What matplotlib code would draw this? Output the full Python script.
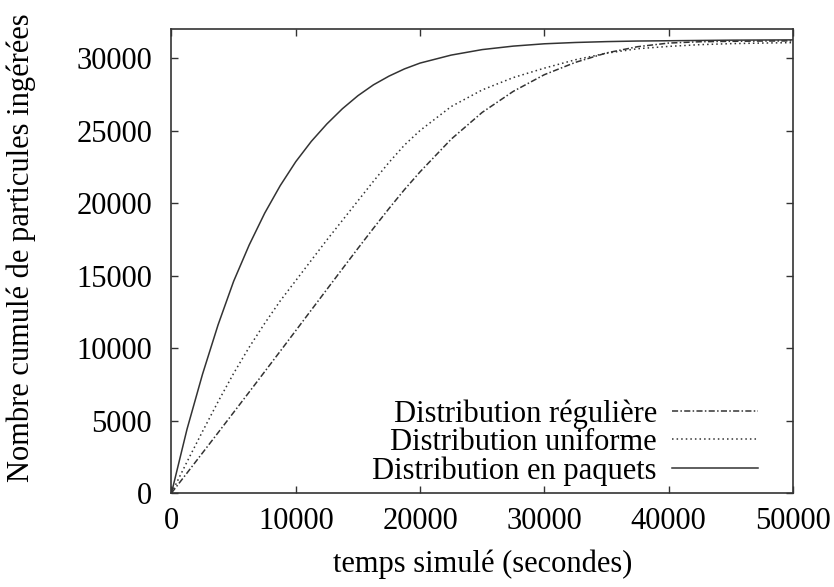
import numpy as np
import matplotlib.pyplot as plt

# Valeurs (temps en secondes)
temps = [0, 1250, 2500, 3750, 5000, 6250, 7500, 8750, 10000, 11250, 12500,
         13750, 15000, 16250, 17500, 18750, 20000, 22500, 25000, 27500,
         30000, 32500, 35000, 37500, 40000, 42500, 45000, 47500, 50000]

reguliere = [0, 1380, 2770, 4160, 5560, 6960, 8370, 9780, 11200, 12620, 14040,
             15460, 16870, 18260, 19620, 20930, 22150, 24400, 26250, 27700,
             28850, 29700, 30350, 30780, 31030, 31120, 31150, 31170, 31180]

uniforme = [0, 2150, 4250, 6300, 8250, 10050, 11700, 13250, 14650, 16050,
            17450, 18800, 20150, 21500, 22800, 24000, 25000, 26650, 27800,
            28650, 29300, 29880, 30330, 30640, 30800, 30920, 30990, 31030,
            31060]

paquets = [0, 4400, 8200, 11600, 14600, 17100, 19300, 21200, 22850, 24250,
           25450, 26500, 27400, 28150, 28750, 29250, 29650, 30200, 30580,
           30820, 30980, 31070, 31130, 31170, 31190, 31210, 31230, 31240,
           31250]

xticks = [0, 10000, 20000, 30000, 40000, 50000]
yticks = [0, 5000, 10000, 15000, 20000, 25000, 30000]

plt.rcParams['font.family'] = ['Liberation Serif', 'DejaVu Serif']
plt.rcParams['font.size'] = 22

fig = plt.figure(figsize=(8.34, 5.87), dpi=100)
ax = fig.add_axes([0.2056, 0.1601, 0.7452, 0.7905])

col = '#333333'
ax.plot(temps, reguliere, color=col, lw=1.1, linestyle=(0, (4, 1.5, 1, 1.5)),
        label='Distribution régulière')
ax.plot(temps, uniforme, color=col, lw=1.1, linestyle=(0, (1, 2)),
        label='Distribution uniforme')
ax.plot(temps, paquets, color=col, lw=1.1, linestyle='-',
        label='Distribution en paquets')

ax.set_xlim(0, 50000)
ax.set_ylim(0, 32000)
ax.set_xticks(xticks)
ax.set_yticks(yticks)
ax.tick_params(direction='in', top=True, right=True, length=5, width=1,
               color=col)
ax.tick_params(axis='y', pad=14)
ax.tick_params(axis='x', pad=10)
for s in ax.spines.values():
    s.set_linewidth(1.2)
    s.set_color(col)

ax.set_xlabel('temps simulé (secondes)', labelpad=10)
ax.set_ylabel('Nombre cumulé de particules ingérées')
ax.yaxis.set_label_coords(-0.218, 0.528)

ax.legend(loc='lower right', markerfirst=False, frameon=False,
          handlelength=2.8, handletextpad=0.5, labelspacing=-0.02,
          borderaxespad=0.0, bbox_to_anchor=(0.963, -0.011))

fig.savefig('out.png', dpi=100)
